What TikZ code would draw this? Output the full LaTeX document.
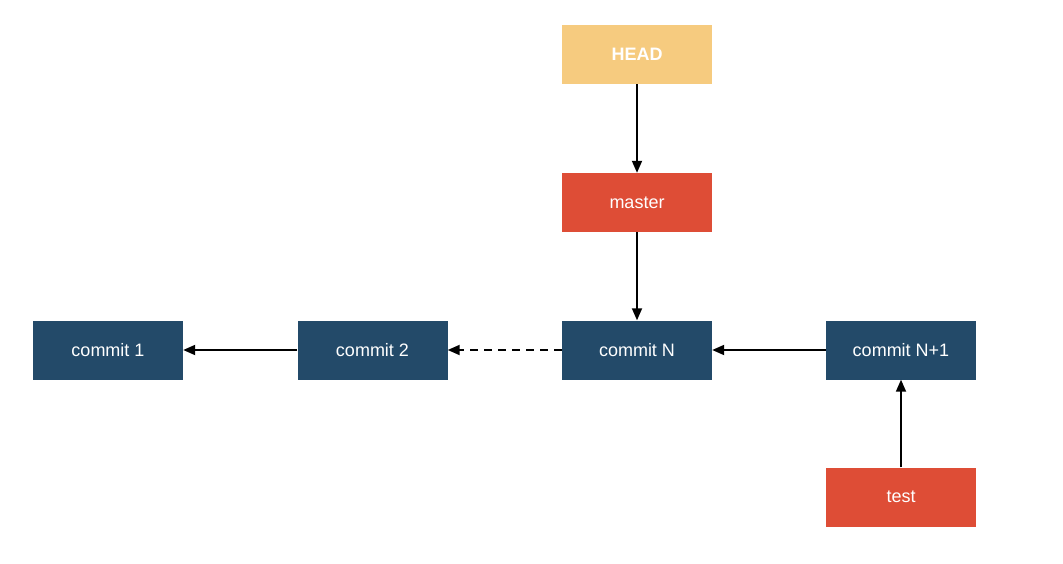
\documentclass[tikz,border=0pt]{standalone}
\usepackage{fontspec}
\setmainfont{Liberation Sans}
\usetikzlibrary{arrows.meta}
\definecolor{cblue}{HTML}{234A69}
\definecolor{cred}{HTML}{DE4D36}
\definecolor{cyellow}{HTML}{F6CB7F}
\tikzset{
  box/.style={minimum width=150pt, minimum height=59pt, inner sep=0pt, text=white, font=\fontsize{18}{21}\selectfont},
  commitbox/.style={box, fill=cblue},
  refbox/.style={box, fill=cred},
  headbox/.style={box, fill=cyellow, font=\fontsize{18}{21}\selectfont\bfseries},
  link/.style={line width=1.8pt, -{Triangle[length=12pt,width=10pt]}},
}
\begin{document}
\begin{tikzpicture}[x=1pt,y=-1pt]
\useasboundingbox (0,0) rectangle (1063,564);
\node[headbox] (head) at (637,54.5) {HEAD};
\node[refbox] (master) at (637,202.5) {master};
\node[commitbox] (c1) at (108,350) {commit 1};
\node[commitbox] (c2) at (372.5,350) {commit 2};
\node[commitbox] (cn) at (637,350) {commit N};
\node[commitbox] (cn1) at (901,350) {commit N+1};
\node[refbox] (test) at (901,497) {test};
\draw[link] (head) -- (master);
\draw[link] (master) -- (cn);
\draw[link] (c2) -- (c1);
\draw[link, dash pattern=on 8pt off 6pt] (cn) -- (c2);
\draw[link] (cn1) -- (cn);
\draw[link] (test) -- (cn1);
\end{tikzpicture}
\end{document}
